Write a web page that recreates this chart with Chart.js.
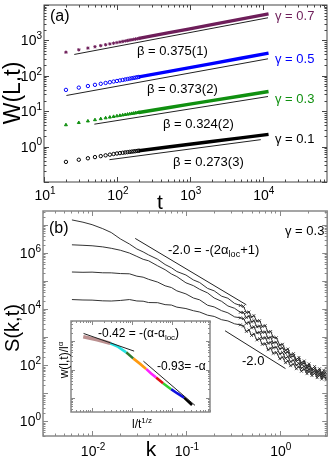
<!doctype html>
<html lang="en">
  <head>
    <meta charset="utf-8">
    <title>W(L,t) and S(k,t)</title>
    <style>
      * { margin: 0; padding: 0; }
      body { background: #fff; width: 332px; height: 457px; overflow: hidden; }
      .panel { position: absolute; left: 0; top: 0; }
    </style>
  </head>
  <body>
    <canvas id="chartA" class="panel" width="332" height="457"></canvas>
    <canvas id="chartB" class="panel" width="332" height="457"></canvas>
    <canvas id="chartC" class="panel" width="332" height="457"></canvas>
    <script src="https://cdn.jsdelivr.net/npm/chart.js/dist/chart.umd.min.js"></script>
    <script>
    // ---- panel (a): W(L,t) vs t ----
    const tSparse = [20, 30, 40, 50, 60, 70, 80, 90, 100, 110, 120, 130, 140, 150, 160, 170, 180, 190, 200];
    const tDense = [200, 500, 1000, 2000, 5000, 12000];

    const w07Sparse = [464, 543, 607, 663, 711, 755, 796, 833, 868, 901, 931, 961, 989, 1016, 1042, 1067, 1090, 1114, 1136];
    const w07Dense = [1136, 1624, 2125, 2783, 3975, 5588];
    const w05Sparse = [40, 46.3, 51.4, 55.6, 59.4, 62.8, 65.9, 68.8, 71.4, 74.0, 76.5, 78.8, 81.1, 83.3, 85.3, 87.3, 89.2, 91.0, 92.8];
    const w05Dense = [92.8, 131, 170.5, 221.6, 313, 436];
    const w03Sparse = [4.10, 4.74, 5.26, 5.70, 6.09, 6.44, 6.75, 7.05, 7.32, 7.55, 7.78, 7.99, 8.19, 8.37, 8.56, 8.73, 8.90, 9.06, 9.22];
    const w03Dense = [9.22, 12.5, 15.8, 19.9, 26.9, 36.1];
    const w01Sparse = [0.370, 0.425, 0.468, 0.505, 0.538, 0.566, 0.593, 0.617, 0.639, 0.655, 0.670, 0.684, 0.697, 0.710, 0.722, 0.734, 0.744, 0.755, 0.766];
    const w01Dense = [0.766, 0.971, 1.163, 1.392, 1.767, 2.218];

    // fitted power laws (end points)
    const fit07T = [26, 11800], fit07W = [401, 4355];
    const fit05T = [20.3, 11800], fit05W = [27.8, 302];
    const fit03T = [49, 11800], fit03W = [4.3, 26];
    const fit01T = [79, 9400], fit01W = [0.427, 1.57];

    const gammaLabels = ['γ = 0.7', 'γ = 0.5', 'γ = 0.3', 'γ = 0.1'];
    const betaLabels = ['β = 0.375(1)', 'β = 0.373(2)', 'β = 0.324(2)', 'β = 0.273(3)'];
    const xExpA = [1, 2, 3, 4];
    const yExpA = [0, 1, 2, 3];

    // ---- panel (b): S(k,t) vs k ----
    const kVals = [0.0061, 0.008, 0.01, 0.013, 0.016, 0.02, 0.025, 0.03, 0.035, 0.04, 0.05, 0.06, 0.07, 0.08, 0.1, 0.12, 0.14, 0.17, 0.2, 0.24, 0.28, 0.33,
      0.38, 0.41, 0.44, 0.47, 0.5, 0.53, 0.57, 0.61, 0.65, 0.7, 0.75, 0.8, 0.85, 0.92, 1.0, 1.07, 1.15, 1.22, 1.3, 1.4, 1.5, 1.6, 1.7, 1.82, 1.95, 2.05, 2.2, 2.35, 2.5, 2.65, 2.8, 2.95, 3.14];
    const sT1 = [1.52e7, 1.26e7, 1.03e7, 7.4e6, 5.4e6, 3.2e6, 2.1e6, 1.4e6, 1.1e6, 8.6e5, 6.0e5, 3.9e5, 3.0e5, 2.2e5, 1.65e5, 1.1e5, 8.9e4, 5.5e4, 4.5e4, 2.9e4, 2.45e4, 1.6e4,
      1.35e4, 1.25e4, 7.6e3, 7.9e3, 5.2e3, 5.9e3, 3.7e3, 3.9e3, 2.4e3, 2.6e3, 1.5e3, 1.6e3, 1.0e3, 960, 520, 560, 340, 380, 235, 260, 160, 190, 122, 142, 92, 112, 74, 90, 61, 75, 52, 66, 50];
    const sT2 = [1.97e6, 1.89e6, 1.82e6, 1.66e6, 1.48e6, 1.26e6, 1.0e6, 7.6e5, 6.0e5, 5.3e5, 3.5e5, 2.55e5, 1.8e5, 1.45e5, 8.7e4, 6.9e4, 5.1e4, 3.8e4, 2.5e4, 1.9e4, 1.3e4, 1.07e4,
      7.7e3, 7.6e3, 5.0e3, 5.6e3, 3.5e3, 3.9e3, 2.35e3, 2.5e3, 1.48e3, 1.55e3, 920, 1000, 630, 660, 385, 420, 265, 300, 192, 215, 138, 160, 104, 120, 79, 94, 64, 76, 53, 64, 45, 55, 40];
    const sT3 = [2.11e5, 2.06e5, 2.09e5, 1.98e5, 1.97e5, 1.86e5, 1.82e5, 1.5e5, 1.38e5, 1.16e5, 9.2e4, 6.8e4, 5.9e4, 4.5e4, 3.5e4, 2.5e4, 2.15e4, 1.38e4, 1.2e4, 8.8e3, 7.4e3, 5.3e3,
      4.9e3, 4.6e3, 3.1e3, 3.4e3, 2.15e3, 2.35e3, 1.42e3, 1.5e3, 900, 970, 600, 660, 420, 440, 255, 285, 176, 205, 133, 152, 100, 117, 78, 92, 61, 75, 52, 63, 43, 53, 38, 47, 35];
    const sT4 = [2.2e4, 2.12e4, 2.1e4, 1.98e4, 1.95e4, 2.04e4, 2.2e4, 1.96e4, 1.92e4, 1.72e4, 1.7e4, 1.45e4, 1.4e4, 1.18e4, 1.05e4, 8.8e3, 7.9e3, 6.1e3, 5.5e3, 4.2e3, 3.8e3, 3.0e3,
      2.75e3, 2.5e3, 1.6e3, 1.8e3, 1.15e3, 1.3e3, 800, 890, 555, 590, 355, 405, 265, 285, 170, 194, 123, 143, 96, 110, 75, 89, 61, 72, 50, 61, 43, 52, 36, 45, 32, 40, 30];

    const fitBk1 = [0.0288, 0.44], fitBs1 = [3.33e6, 1.43e4];
    const fitBk2 = [0.261, 1.15], fitBs2 = [1700, 76];
    const xExpB = [-2, -1, 0];
    const yExpB = [0, 2, 4, 6];

    // ---- inset: scaling collapse ----
    const insetX = [0.0606, 0.1357, 0.2868, 0.4544, 0.7206, 1.078, 1.612, 2.278, 3.038, 4.05, 6.06, 9.60, 13.57, 20.3, 32.2];
    const insetY = [1.42, 1.11, 0.836, 0.629, 0.402, 0.2466, 0.1578, 0.105, 0.0728, 0.0526, 0.0328, 0.0203, 0.01465, 0.01026, 0.00561];
    const insetSegments = [[0, 2], [2, 4], [4, 5], [5, 7], [7, 9], [9, 10], [10, 11], [11, 13], [13, 14]];
    const insetFit1X = [0.0617, 1.14], insetFit1Y = [1.857, 0.443];
    const insetFit2X = [1.95, 38.2], insetFit2Y = [0.1965, 0.00548];

    const FONT = '"Liberation Sans", Arial, sans-serif';
    const segColors = ['#bb9090', '#22e0e0', '#2f7a2f', '#ff9a10', '#ff20ff', '#e01010', '#30d030', '#1010e0', '#000000'];
    const colA = ['#6e1e5a', '#0000ff', '#109010', '#000000'];

    function pairs(xs, ys) {
      return xs.map((x, i) => ({ x: x, y: ys[i] }));
    }

    function logTicks(min, max) {
      const out = [];
      for (let e = Math.floor(Math.log10(min)); e <= Math.ceil(Math.log10(max)); e++) {
        for (let m = 1; m <= 9; m++) {
          const v = m * Math.pow(10, e);
          if (v >= min * 0.999 && v <= max * 1.001) out.push({ v: v, major: m === 1 });
        }
      }
      return out;
    }

    function drawFrame(chart, color, lw, major, minor) {
      const { ctx, chartArea: a, scales: { x, y } } = chart;
      ctx.save();
      ctx.strokeStyle = color;
      ctx.lineWidth = 1;
      ctx.beginPath();
      logTicks(x.min, x.max).forEach(t => {
        const px = Math.round(x.getPixelForValue(t.v)) + 0.5;
        const len = t.major ? major : minor;
        ctx.moveTo(px, a.bottom); ctx.lineTo(px, a.bottom - len);
        ctx.moveTo(px, a.top); ctx.lineTo(px, a.top + len);
      });
      logTicks(y.min, y.max).forEach(t => {
        const py = Math.round(y.getPixelForValue(t.v)) + 0.5;
        const len = t.major ? major : minor;
        ctx.moveTo(a.left, py); ctx.lineTo(a.left + len, py);
        ctx.moveTo(a.right, py); ctx.lineTo(a.right - len, py);
      });
      ctx.stroke();
      ctx.lineWidth = lw;
      ctx.strokeRect(a.left, a.top, a.right - a.left, a.bottom - a.top);
      ctx.restore();
    }

    // parts: [text, mode] with mode '', 'sub' or 'sup'
    function runWidth(ctx, parts, size) {
      let w = 0;
      parts.forEach(p => {
        ctx.font = (p[1] ? Math.round(size * 0.7) : size) + 'px ' + FONT;
        w += ctx.measureText(p[0]).width;
      });
      return w;
    }

    function drawRun(ctx, parts, x, y, size, color, align) {
      const w = runWidth(ctx, parts, size);
      let cx = align === 'right' ? x - w : align === 'center' ? x - w / 2 : x;
      ctx.fillStyle = color;
      ctx.textAlign = 'left';
      ctx.textBaseline = 'alphabetic';
      parts.forEach(p => {
        const s = p[1] ? Math.round(size * 0.7) : size;
        const dy = p[1] === 'sub' ? size * 0.25 : p[1] === 'sup' ? -size * 0.45 : 0;
        ctx.font = s + 'px ' + FONT;
        ctx.fillText(p[0], cx, y + dy);
        cx += ctx.measureText(p[0]).width;
      });
    }

    function drawRotated(ctx, parts, cx, cy, size) {
      ctx.save();
      ctx.translate(cx, cy);
      ctx.rotate(-Math.PI / 2);
      drawRun(ctx, parts, 0, size * 0.35, size, '#000', 'center');
      ctx.restore();
    }

    function powParts(e) {
      return [['10', ''], [String(e), 'sup']];
    }

    const frameA = {
      id: 'frameA',
      afterDraw(chart) {
        const { ctx, scales: { x, y } } = chart;
        drawFrame(chart, '#444', 1, 5, 2.5);
        ctx.save();
        xExpA.forEach(e => drawRun(ctx, powParts(e), x.getPixelForValue(Math.pow(10, e)) + 1, 200, 14, '#000', 'center'));
        yExpA.forEach(e => drawRun(ctx, powParts(e), 42, y.getPixelForValue(Math.pow(10, e)) + 5, 14, '#000', 'right'));
        drawRun(ctx, [['t', '']], 160, 209, 21, '#000', 'center');
        drawRotated(ctx, [['W(L,t)', '']], 12, 93, 23);
        drawRun(ctx, [['(a)', '']], 50, 21, 16, '#000', 'left');
        const gy = [15, 58, 98, 138];
        gammaLabels.forEach((g, i) => drawRun(ctx, [[g, '']], 275, gy[i] + 4.5, 13, colA[i], 'left'));
        const bx = [137, 147, 163, 173], by = [50, 88, 123, 161.5];
        betaLabels.forEach((b, i) => drawRun(ctx, [[b, '']], bx[i], by[i] + 4.5, 13, '#000', 'left'));
        ctx.restore();
      }
    };

    const frameB = {
      id: 'frameB',
      afterDraw(chart) {
        const { ctx, scales: { x, y } } = chart;
        drawFrame(chart, '#888', 1.5, 5, 2.5);
        ctx.save();
        xExpB.forEach(e => drawRun(ctx, powParts(e), x.getPixelForValue(Math.pow(10, e)) + 1, 456, 14, '#000', 'center'));
        yExpB.forEach(e => drawRun(ctx, powParts(e), 41, y.getPixelForValue(Math.pow(10, e)) + 5, 14, '#000', 'right'));
        drawRun(ctx, [['k', '']], 151, 456, 21, '#000', 'center');
        drawRotated(ctx, [['S(k,t)', '']], 12, 328, 20);
        drawRun(ctx, [['(b)', '']], 49, 232.5, 16, '#000', 'left');
        drawRun(ctx, [['γ = 0.3', '']], 285, 234.5, 13, '#000', 'left');
        drawRun(ctx, [['-2.0 = -(2α', ''], ['loc', 'sub'], ['+1)', '']], 168, 253.5, 13, '#000', 'left');
        drawRun(ctx, [['-2.0', '']], 242, 364.5, 13, '#000', 'left');
        ctx.restore();
      }
    };

    const frameC = {
      id: 'frameC',
      beforeDraw(chart) {
        const { ctx, chartArea: a } = chart;
        ctx.save();
        ctx.fillStyle = '#fff';
        ctx.fillRect(a.left, a.top, a.right - a.left, a.bottom - a.top);
        ctx.restore();
      },
      afterDraw(chart) {
        const { ctx } = chart;
        drawFrame(chart, '#888', 1.5, 4, 2);
        ctx.save();
        drawRun(ctx, [['-0.42', ''], [' = -(α-α', ''], ['loc', 'sub'], [')', '']], 98, 337, 12, '#000', 'left');
        drawRun(ctx, [['-0.93', ''], ['= -α', '']], 157, 370, 12, '#000', 'left');
        drawRun(ctx, [['l/t', ''], ['1/z', 'sup']], 142, 428, 12, '#000', 'center');
        drawRotated(ctx, [['w(l,t)/l', ''], ['α', 'sup']], 64, 360, 12);
        ctx.restore();
      }
    };

    const baseOptions = (pad, xs, ys) => ({
      responsive: false,
      animation: false,
      layout: { padding: pad },
      plugins: { legend: { display: false }, tooltip: { enabled: false } },
      scales: {
        x: Object.assign({ type: 'logarithmic', display: false }, xs),
        y: Object.assign({ type: 'logarithmic', display: false }, ys)
      }
    });

    const lineSet = (data, color, width) => ({
      data: data, showLine: true, pointRadius: 0, borderColor: color, borderWidth: width, tension: 0
    });

    // panel (a)
    const sparse = [w07Sparse, w05Sparse, w03Sparse, w01Sparse];
    const dense = [w07Dense, w05Dense, w03Dense, w01Dense];
    const fitsT = [fit07T, fit05T, fit03T, fit01T];
    const fitsW = [fit07W, fit05W, fit03W, fit01W];
    const markers = ['star', 'circle', 'triangle', 'circle'];
    const dsA = [];
    sparse.forEach((s, i) => {
      dsA.push({
        data: pairs(tSparse, s), showLine: false, pointStyle: markers[i], pointRadius: 1.7,
        borderColor: colA[i], backgroundColor: i === 2 ? colA[i] : 'rgba(0,0,0,0)', borderWidth: 1
      });
      dsA.push(lineSet(pairs(tDense, dense[i]), colA[i], 3.4));
      dsA.push(lineSet(pairs(fitsT[i], fitsW[i]), '#222', 1));
    });

    new Chart(document.getElementById('chartA'), {
      type: 'scatter',
      data: { datasets: dsA },
      options: baseOptions({ left: 44, top: 2, right: 2, bottom: 275 }, { min: 10, max: 76000 }, { min: 0.1, max: 10000 }),
      plugins: [frameA]
    });

    // panel (b)
    const dsB = [sT1, sT2, sT3, sT4].map(s => ({
      data: pairs(kVals, s), showLine: true, borderColor: '#333', borderWidth: 1, tension: 0,
      pointStyle: 'crossRot', pointBorderColor: '#222', pointBorderWidth: 0.8,
      pointRadius: c => (c.raw && c.raw.x >= 0.38) ? 2 : 0
    }));
    dsB.push(lineSet(pairs(fitBk1, fitBs1), '#222', 1));
    dsB.push(lineSet(pairs(fitBk2, fitBs2), '#222', 1));

    new Chart(document.getElementById('chartB'), {
      type: 'scatter',
      data: { datasets: dsB },
      options: baseOptions({ left: 43, top: 211, right: 1, bottom: 21 }, { min: 0.003, max: 3.2 }, { min: 0.316, max: 3.16e7 }),
      plugins: [frameB]
    });

    // inset
    const dsC = [lineSet(pairs(insetFit1X, insetFit1Y), '#222', 1), lineSet(pairs(insetFit2X, insetFit2Y), '#222', 1)];
    insetSegments.forEach((seg, i) => {
      dsC.push(lineSet(pairs(insetX.slice(seg[0], seg[1] + 1), insetY.slice(seg[0], seg[1] + 1)), segColors[i], i === 0 ? 3.5 : 2.6));
    });

    new Chart(document.getElementById('chartC'), {
      type: 'scatter',
      data: { datasets: dsC },
      options: baseOptions({ left: 71, top: 321, right: 122, bottom: 45 }, { min: 0.0299, max: 90.8 }, { min: 0.0032, max: 5.09 }),
      plugins: [frameC]
    });
    </script>
  </body>
</html>
